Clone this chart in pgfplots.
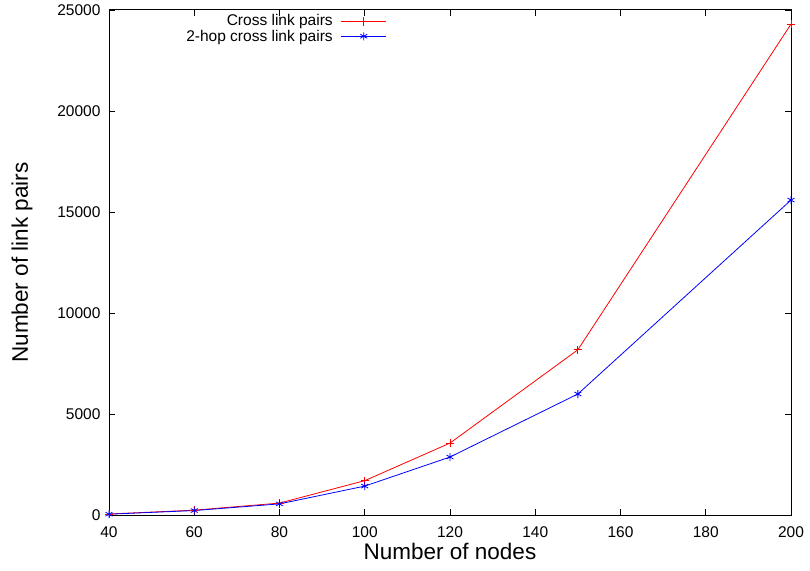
\documentclass[border=0pt]{standalone}
\usepackage{fontspec}
\setmainfont{Liberation Sans}
\usepackage{pgfplots}
\pgfplotsset{compat=1.18}
\definecolor{gred}{RGB}{255,0,0}
\definecolor{gblue}{RGB}{0,0,255}
\begin{document}
\begin{tikzpicture}
\useasboundingbox (0,0) rectangle (810bp,571bp);
\begin{axis}[
  at={(109bp,56bp)}, anchor=south west,
  scale only axis, width=682bp, height=505bp,
  xmin=40, xmax=200, ymin=0, ymax=25000,
  xtick={40,60,...,200},
  ytick={0,5000,...,25000},
  tick align=inside,
  major tick length=6bp,
  tick style={black, line width=0.6bp},
  axis line style={black, line width=1bp},
  scaled y ticks=false,
  /pgf/number format/assume math mode=true,
  yticklabel={\pgfmathprintnumber[fixed,1000 sep={}]{\tick}},
  xticklabel={\pgfmathprintnumber[fixed,1000 sep={}]{\tick}},
  ticklabel style={font=\fontsize{15.5bp}{18bp}\selectfont},
  xticklabel style={yshift=-10bp, inner sep=1bp},
  yticklabel style={xshift=-5bp},
  xlabel={Number of nodes},
  ylabel={Number of link pairs},
  label style={font=\fontsize{22.5bp}{26bp}\selectfont, inner sep=0pt},
  xlabel style={at={(axis description cs:0.5,-0.0713)}, anchor=center},
  ylabel style={at={(axis description cs:-0.1276,0.5)}, anchor=center},
  legend style={draw=none, fill=none, at={(axis description cs:0.409,0.997)}, anchor=north east,
    font=\fontsize{15.5bp}{17bp}\selectfont, row sep=-1.5bp, inner sep=1bp,
    /tikz/every odd column/.append style={column sep=6bp}},
  legend cell align=right,
  legend plot pos=right,
]
\addplot[color=gred, line width=0.8bp, mark=+, mark size=4bp, mark options={line width=0.8bp},
  legend image code/.code={\draw[gred, line width=1bp] (0bp,0bp) -- (45bp,0bp);
    \draw[gred, line width=1bp] (18bp,0bp) -- (27bp,0bp) (22.5bp,-4.5bp) -- (22.5bp,4.5bp);}]
  coordinates {(40,50) (60,240) (80,590) (100,1700) (120,3560) (150,8180) (200,24300)};
\addlegendentry{Cross link pairs}
\addplot[color=gblue, line width=0.8bp, mark=asterisk, mark size=4bp, mark options={line width=0.8bp},
  legend image code/.code={\draw[gblue, line width=1bp] (0bp,0bp) -- (45bp,0bp);
    \draw[gblue, line width=0.8bp, mark=asterisk, mark size=4bp] plot coordinates {(22.5bp,0bp)};}]
  coordinates {(40,40) (60,220) (80,550) (100,1430) (120,2870) (150,5990) (200,15590)};
\addlegendentry{2-hop cross link pairs}
\end{axis}
\end{tikzpicture}
\end{document}
